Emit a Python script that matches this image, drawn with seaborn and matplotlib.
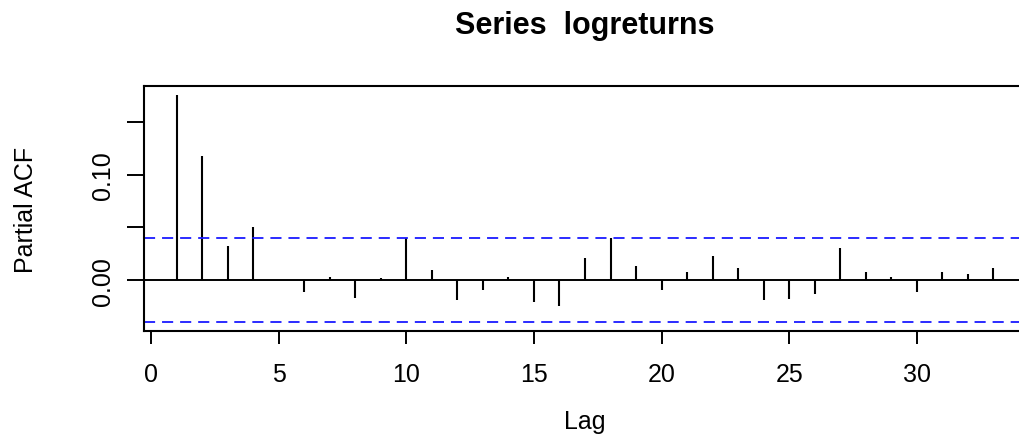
import numpy as np
import pandas as pd
import matplotlib
matplotlib.use("Agg")
import matplotlib.pyplot as plt
import seaborn as sns

# ---- data ----
lags = list(range(1, 34))
pacf_values = [0.1756, 0.1174, 0.0323, 0.0506, 0.0003, -0.0111, 0.0032, -0.0165,
               0.0016, 0.0396, 0.0098, -0.0190, -0.0089, 0.0032, -0.0203, -0.0244,
               0.0215, 0.0396, 0.0136, -0.0089, 0.0073, 0.0228, 0.0120, -0.0190,
               -0.0177, -0.0127, 0.0307, 0.0073, 0.0032, -0.0111, 0.0073, 0.0057,
               0.0120]
conf_limit = 0.0396
x_ticks = [0, 5, 10, 15, 20, 25, 30]
y_ticks = [0.00, 0.05, 0.10, 0.15]
y_tick_labels = ["0.00", "", "0.10", ""]
title = "Series  logreturns"

df = pd.DataFrame({"Lag": lags, "PACF": pacf_values})

sns.set_theme(style="ticks")
plt.rcParams["font.family"] = ["Liberation Sans", "DejaVu Sans"]
plt.rcParams["lines.scale_dashes"] = False
plt.rcParams["text.color"] = "black"
plt.rcParams["axes.labelcolor"] = "black"

fig = plt.figure(figsize=(10.19, 4.39), dpi=100)
ax = fig.add_axes([144 / 1019, 1 - 332 / 439, (1026 - 144) / 1019, (332 - 87) / 439])

# spikes
ax.vlines(df["Lag"], 0, df["PACF"], color="black", linewidth=1.5)
# zero line
ax.axhline(0, color="black", linewidth=1.4)
# confidence limits
for c in (conf_limit, -conf_limit):
    ax.axhline(c, color="#1a1aff", linewidth=1.3, linestyle=(0, (8, 5)))

lo = min(-conf_limit, min(pacf_values))
hi = max(conf_limit, max(pacf_values))
ext = 0.04 * (hi - lo)
ax.set_ylim(lo - ext, hi + ext)
ax.set_xlim(1 - 0.04 * 32, 33 + 0.04 * 32)

ax.set_xticks(x_ticks)
ax.set_xticklabels([str(t) for t in x_ticks])
ax.set_yticks(y_ticks)
ax.set_yticklabels(y_tick_labels, rotation=90, va="center")

ax.tick_params(axis="x", length=9, width=1.4, colors="black", labelsize=18, pad=13)
ax.tick_params(axis="y", length=12, width=1.4, colors="black", labelsize=18, pad=9)
for s in ax.spines.values():
    s.set_linewidth(1.5)
    s.set_color("black")

ax.set_xlabel("Lag", fontsize=18, labelpad=17)
ax.set_ylabel("Partial ACF", fontsize=18, labelpad=38)
fig.text((144 + 1026) / 2 / 1019, 1 - 26 / 439, title, ha="center", va="center",
         fontsize=22, fontweight="bold", color="black")

fig.savefig("out.png", dpi=100)
